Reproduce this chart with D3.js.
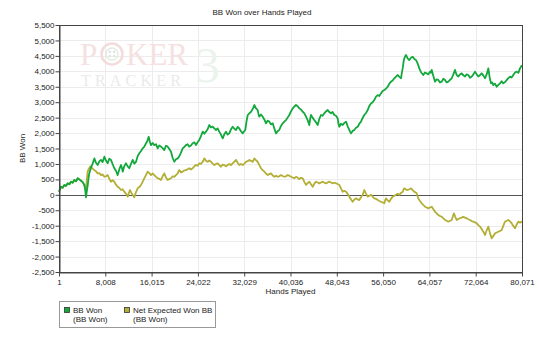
<!DOCTYPE html>
<html>
<head>
<meta charset="utf-8">
<script src="https://cdn.jsdelivr.net/npm/d3@7"></script>
<style>
  html, body { margin: 0; padding: 0; background: #fff; }
  svg { display: block; }
  .lbl { font-family: "Liberation Sans", Arial, sans-serif; fill: #222; }
  .logo { font-family: "Liberation Serif", "DejaVu Serif", serif; }
</style>
</head>
<body>
<svg id="chart" width="539" height="342"></svg>
<script>
// Cumulative big blinds won, sampled as [hand number, BB]
const bbWon = [
  [1,100],[180,190],[350,260],[640,230],[920,320],[1200,290],[1500,370],[1800,340],[2080,425],[2360,390],
  [2650,480],[2950,440],[3240,535],[3520,500],[3810,455],[4100,410],[4380,320],[4520,180],[4670,-80],
  [4810,120],[4960,300],[5100,520],[5240,700],[5530,880],[5830,1020],[5970,1090],[6110,1180],[6400,1040],
  [6690,965],[6980,1080],[7260,1130],[7550,1060],[7840,1235],[8130,1110],[8420,1020],[8700,1170],
  [8990,1130],[9280,990],[9560,860],[9850,780],[10150,640],[10440,830],[10720,965],[10870,880],
  [11020,750],[11300,930],[11590,1020],[11880,920],[12160,860],[12450,1000],[12750,1130],[13030,1010],
  [13320,1070],[13600,1250],[13890,1345],[14180,1420],[14480,1505],[14760,1560],[15050,1670],
  [15280,1740],[15510,1880],[15710,1720],[15910,1610],[16200,1680],[16480,1610],[16780,1640],
  [17070,1505],[17350,1600],[17640,1560],[17920,1510],[18210,1450],[18500,1590],[18800,1560],
  [19080,1480],[19370,1395],[19650,1200],[19940,1070],[20230,1150],[20530,1180],[20730,1230],
  [20930,1290],[21160,1400],[21390,1505],[21670,1550],[21960,1610],[22240,1640],[22530,1560],
  [22820,1600],[23120,1670],[23400,1700],[23690,1610],[23970,1700],[24260,1775],[24550,1900],
  [24850,2045],[25130,1980],[25420,2045],[25700,2120],[25990,2260],[26280,2180],[26580,2210],
  [26860,2150],[27150,2100],[27430,2150],[27720,2045],[28010,1950],[28310,1830],[28590,1960],
  [28880,2045],[29160,1950],[29450,1990],[29740,2120],[30040,2205],[30320,2140],[30610,2100],
  [30900,2200],[31180,2150],[31470,2060],[31770,1990],[32000,2050],[32220,2100],[32430,2380],
  [32640,2585],[32920,2640],[33210,2690],[33500,2780],[33780,2910],[34070,2800],[34360,2745],
  [34500,2620],[34640,2530],[34930,2600],[35230,2530],[35510,2440],[35800,2315],[36080,2400],
  [36370,2370],[36660,2280],[36960,2315],[37240,2150],[37530,1990],[37810,2060],[38100,2100],
  [38390,2230],[38690,2315],[38970,2370],[39260,2420],[39540,2500],[39830,2585],[40120,2700],
  [40420,2800],[40700,2860],[40990,2910],[41270,2870],[41560,2800],[41850,2760],[42150,2690],
  [42430,2640],[42720,2530],[43000,2420],[43290,2260],[43430,2450],[43580,2585],[43860,2500],
  [44150,2420],[44440,2350],[44740,2260],[45020,2460],[45310,2585],[45590,2560],[45880,2640],
  [46170,2700],[46470,2745],[46750,2680],[47040,2640],[47320,2680],[47610,2585],[47900,2560],
  [48200,2475],[48340,2300],[48480,2205],[48770,2300],[49060,2260],[49350,2330],[49640,2370],
  [49920,2220],[50210,2100],[50350,2040],[50500,1990],[50780,2070],[51070,2100],[51360,2170],
  [51660,2205],[51940,2300],[52230,2370],[52510,2490],[52800,2585],[53090,2650],[53390,2745],
  [53670,2880],[53960,2960],[54240,3000],[54530,3070],[54820,3180],[55120,3230],[55400,3200],
  [55690,3285],[55970,3360],[56260,3395],[56550,3440],[56850,3500],[57130,3600],[57420,3665],
  [57700,3700],[57990,3775],[58280,3830],[58580,3880],[58860,3820],[59150,3775],[59290,3950],
  [59440,4095],[59580,4300],[59720,4420],[59860,4480],[60010,4530],[60290,4420],[60580,4365],
  [60870,4440],[61170,4475],[61450,4400],[61740,4365],[62020,4260],[62310,4095],[62650,3960],
  [63000,3880],[63290,3960],[63590,3935],[63870,3900],[64160,3990],[64310,3950],[64460,4045],
  [64740,3850],[65030,3665],[65310,3740],[65600,3720],[65890,3640],[66190,3665],[66470,3760],
  [66760,3720],[67040,3640],[67330,3665],[67620,3720],[67920,3775],[68200,3900],[68490,4045],
  [68770,3880],[69060,3830],[69350,3900],[69650,3935],[69930,3870],[70220,3830],[70500,3900],
  [70790,3880],[71080,3790],[71380,3830],[71660,3900],[71950,3990],[72230,3900],[72520,3830],
  [72810,3880],[73100,3935],[73390,3860],[73680,3775],[73960,3900],[74250,4095],[74480,3800],
  [74710,3610],[74910,3640],[75110,3555],[75400,3600],[75700,3500],[75980,3560],[76270,3610],
  [76550,3680],[76840,3610],[77130,3650],[77430,3720],[77710,3780],[78000,3830],[78280,3800],
  [78570,3880],[78860,3960],[79160,3990],[79440,3950],[79730,4095],[79900,4150],[80071,4200]
];

// All-in adjusted expectation, [hand number, BB]
const netExpectedBB = [
  [1,100],[180,190],[350,260],[640,230],[920,320],[1200,290],[1500,370],[1800,340],[2080,425],[2360,390],
  [2650,480],[2950,440],[3240,535],[3520,500],[3810,455],[4100,410],[4380,320],[4520,260],[4670,150],
  [4810,480],[4960,750],[5100,820],[5240,860],[5390,920],[5540,890],[5820,850],[6110,800],[6400,760],
  [6690,695],[6980,700],[7260,640],[7550,660],[7840,585],[8130,600],[8420,640],[8700,520],[8990,425],
  [9280,470],[9560,425],[9850,330],[10150,260],[10440,220],[10720,155],[11000,180],[11290,100],
  [11580,40],[11880,-60],[12080,60],[12280,155],[12520,60],[12750,0],[12880,-30],[13020,-80],
  [13320,90],[13610,210],[13900,250],[14180,320],[14460,420],[14750,535],[15040,640],[15340,750],
  [15620,700],[15910,640],[16200,690],[16480,640],[16780,580],[17070,535],[17350,520],[17640,480],
  [17920,600],[18210,695],[18500,560],[18800,480],[19080,510],[19370,535],[19650,600],[19940,585],
  [20230,640],[20530,695],[20670,760],[20810,800],[21100,720],[21390,750],[21670,790],[21960,800],
  [22240,830],[22530,860],[22820,820],[23120,860],[23400,920],[23690,965],[23970,940],[24260,1020],
  [24550,1000],[24850,1070],[24990,1120],[25130,1180],[25420,1100],[25720,1070],[26000,1110],
  [26290,1070],[26570,1010],[26860,965],[27150,1000],[27450,1020],[27730,960],[28020,910],[28300,980],
  [28590,965],[28880,920],[29180,965],[29460,1000],[29750,965],[30030,1020],[30320,1070],[30460,1100],
  [30610,1130],[30900,1040],[31180,965],[31470,1000],[31770,965],[32050,1010],[32340,1070],
  [32620,1090],[32910,1130],[33200,1100],[33500,1070],[33640,1120],[33780,1180],[34070,1120],
  [34360,1070],[34650,960],[34940,860],[35220,800],[35510,750],[35800,690],[36090,640],[36370,670],
  [36660,695],[36950,630],[37240,585],[37530,620],[37820,585],[38100,600],[38390,640],[38670,610],
  [38960,585],[39250,600],[39550,640],[39830,620],[40120,585],[40400,560],[40690,535],[40980,580],
  [41280,560],[41420,520],[41560,510],[41850,550],[42150,535],[42430,420],[42720,320],[43000,380],
  [43290,425],[43580,340],[43880,260],[44160,360],[44450,425],[44730,400],[45020,370],[45310,400],
  [45610,425],[45890,390],[46180,370],[46460,400],[46750,425],[47040,400],[47340,370],[47620,390],
  [47910,370],[48190,350],[48480,320],[48770,200],[49070,100],[49350,130],[49640,100],[49920,30],
  [50210,-60],[50500,-150],[50790,-225],[51080,-150],[51370,-115],[51650,-150],[51940,-170],
  [52230,-80],[52520,0],[52660,80],[52800,155],[53100,40],[53390,-60],[53670,-30],[53960,0],
  [54240,-60],[54530,-115],[54820,-130],[55120,-170],[55400,-200],[55690,-225],[55970,-250],
  [56260,-275],[56400,-180],[56550,-115],[56840,-180],[57120,-225],[57420,-130],[57710,-60],
  [58000,-30],[58280,0],[58560,30],[58850,0],[59150,60],[59440,100],[59580,170],[59720,210],
  [60010,170],[60310,155],[60590,180],[60880,210],[61160,150],[61450,100],[61650,80],[61860,50],
  [62000,-40],[62140,-115],[62430,-200],[62730,-275],[63010,-330],[63300,-385],[63580,-410],
  [63870,-440],[64160,-410],[64460,-385],[64740,-470],[65030,-545],[65310,-600],[65600,-655],
  [65890,-690],[66190,-710],[66470,-760],[66760,-815],[67040,-840],[67330,-870],[67620,-840],
  [67920,-815],[68110,-700],[68310,-600],[68540,-720],[68780,-815],[69060,-780],[69350,-760],
  [69630,-740],[69920,-710],[70210,-740],[70510,-760],[70790,-790],[71080,-815],[71360,-850],
  [71650,-870],[71940,-890],[72240,-925],[72520,-980],[72810,-1030],[73090,-1110],[73380,-1195],
  [73530,-1250],[73680,-1300],[73960,-1150],[74250,-1030],[74540,-1250],[74830,-1410],[75120,-1330],
  [75410,-1250],[75690,-1220],[75980,-1195],[76270,-1170],[76560,-1140],[76850,-1000],[77130,-870],
  [77420,-840],[77710,-815],[78000,-860],[78290,-925],[78570,-1010],[78860,-1085],[79150,-960],
  [79430,-870],[79750,-900],[80071,-870]
];

const xTicks = [1, 8008, 16015, 24022, 32029, 40036, 48043, 56050, 64057, 72064, 80071];
const yTicks = d3.range(-2500, 5501, 500);
const seriesNames = [["BB Won", "(BB Won)"], ["Net Expected Won BB", "(BB Won)"]];
const seriesColors = ["#12a83c", "#b3ae36"];

const svg = d3.select("#chart");
const M = { left: 59, right: 522, top: 25, bottom: 272 };

const x = d3.scaleLinear().domain([1, 80071]).range([M.left, M.right]);
const y = d3.scaleLinear().domain([-2500, 5500]).range([M.bottom, M.top]);
const fmt = v => d3.format(",")(v).replace("\u2212", "-");

// Title
svg.append("text").attr("class", "lbl")
  .attr("x", 262).attr("y", 15)
  .attr("text-anchor", "middle").attr("font-size", 8)
  .text("BB Won over Hands Played");

// Grid
const grid = svg.append("g").attr("stroke", "#ececec").attr("stroke-width", 1);
grid.selectAll("line.h").data(yTicks).join("line")
  .attr("x1", M.left).attr("x2", M.right)
  .attr("y1", d => Math.round(y(d)) + 0.5).attr("y2", d => Math.round(y(d)) + 0.5);
grid.selectAll("line.v").data(xTicks).join("line")
  .attr("y1", M.top).attr("y2", M.bottom)
  .attr("x1", d => Math.round(x(d)) + 0.5).attr("x2", d => Math.round(x(d)) + 0.5);

// Watermark logo
const wm = svg.append("g");
wm.append("text").attr("class", "logo").attr("x", 80).attr("y", 65).attr("font-size", 31)
  .style("fill", "#f5e1e1").text("P");
const chip = wm.append("g").attr("transform", "translate(112,54)");
chip.append("circle").attr("r", 10.5).attr("fill", "none").attr("stroke", "#f3dcdc").attr("stroke-width", 2.5);
chip.append("circle").attr("r", 6).attr("fill", "none").attr("stroke", "#e2eae3").attr("stroke-width", 1.4);
[[-2.1,-2.1],[2.1,-2.1],[-2.1,2.1],[2.1,2.1]].forEach(p =>
  chip.append("circle").attr("cx", p[0]).attr("cy", p[1]).attr("r", 1.3).attr("fill", "#dde7de"));
wm.append("text").attr("class", "logo").attr("x", 126).attr("y", 65).attr("font-size", 31)
  .attr("letter-spacing", 0).style("fill", "#f5e1e1").text("KER");
wm.append("text").attr("class", "logo").attr("x", 81).attr("y", 86).attr("font-size", 16)
  .attr("letter-spacing", 4.2).style("fill", "#e8ebe9").text("TRACKER");
wm.append("text").attr("class", "logo").attr("x", 195).attr("y", 82).attr("font-size", 50)
  .style("fill", "#ebf3ed").text("3");

// Zero line
svg.append("line")
  .attr("x1", M.left).attr("x2", M.right)
  .attr("y1", Math.round(y(0)) + 0.5).attr("y2", Math.round(y(0)) + 0.5)
  .attr("stroke", "#555").attr("stroke-width", 1);

// Series
const line = d3.line().x(d => x(d[0])).y(d => y(d[1]));
svg.append("path").datum(netExpectedBB).attr("d", line)
  .attr("fill", "none").attr("stroke", seriesColors[1]).attr("stroke-width", 1.8)
  .attr("stroke-linejoin", "round");
svg.append("path").datum(bbWon).attr("d", line)
  .attr("fill", "none").attr("stroke", seriesColors[0]).attr("stroke-width", 1.8)
  .attr("stroke-linejoin", "round");

// Frame
svg.append("rect")
  .attr("x", M.left + 0.5).attr("y", M.top + 0.5)
  .attr("width", M.right - M.left).attr("height", M.bottom - M.top)
  .attr("fill", "none").attr("stroke", "#444").attr("stroke-width", 1);

// Axes
const yAxis = svg.append("g").attr("transform", `translate(${M.left + 0.5},0)`)
  .call(d3.axisLeft(y).tickValues(yTicks).tickFormat(fmt).tickSize(4).tickSizeOuter(0));
const xAxis = svg.append("g").attr("transform", `translate(0,${M.bottom + 0.5})`)
  .call(d3.axisBottom(x).tickValues(xTicks).tickFormat(fmt).tickSize(4).tickSizeOuter(0));
[yAxis, xAxis].forEach(a => {
  a.select(".domain").attr("stroke", "#444");
  a.selectAll(".tick line").attr("stroke", "#444");
  a.selectAll("text").attr("class", "lbl").attr("font-size", 8);
});
yAxis.selectAll("text").attr("x", -5);
xAxis.selectAll("text").attr("y", 7);

// Axis titles
svg.append("text").attr("class", "lbl")
  .attr("transform", `translate(25,${(M.top + M.bottom) / 2}) rotate(-90)`)
  .attr("text-anchor", "middle").attr("font-size", 8).text("BB Won");
svg.append("text").attr("class", "lbl")
  .attr("x", (M.left + M.right) / 2).attr("y", 294)
  .attr("text-anchor", "middle").attr("font-size", 8).text("Hands Played");

// Legend
const lg = svg.append("g");
lg.append("rect").attr("x", 59.5).attr("y", 301.5).attr("width", 156).attr("height", 26)
  .attr("fill", "#fff").attr("stroke", "#999");
const items = lg.selectAll("g.item").data(seriesNames).join("g")
  .attr("transform", (d, i) => `translate(${i === 0 ? 64 : 124},0)`);
items.append("rect").attr("x", 0.5).attr("y", 307.5).attr("width", 5).attr("height", 5)
  .attr("fill", (d, i) => seriesColors[i]).attr("stroke", "#333").attr("stroke-width", 0.8);
items.append("text").attr("class", "lbl").attr("x", 9).attr("y", 313).attr("font-size", 8).text(d => d[0]);
items.append("text").attr("class", "lbl").attr("x", 9).attr("y", 322).attr("font-size", 8).text(d => d[1]);
</script>
</body>
</html>
